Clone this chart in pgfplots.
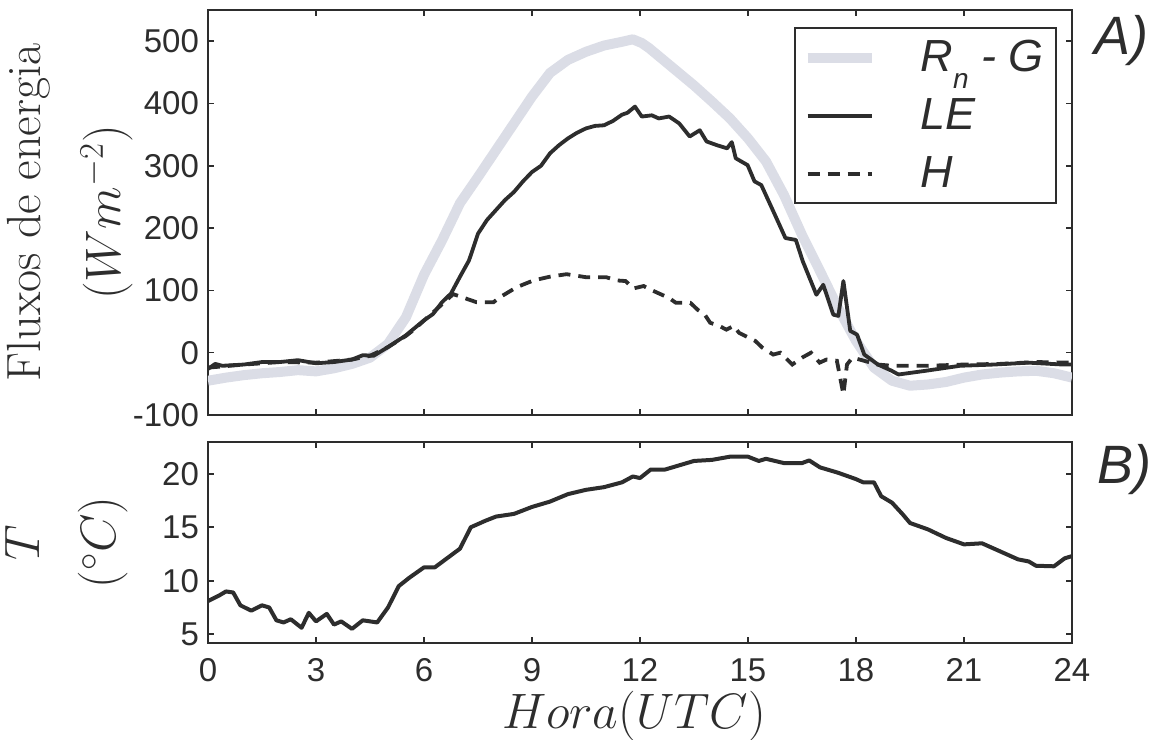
\documentclass[border=0pt]{standalone}
\usepackage{fontspec}
\usepackage{pgfplots}
\pgfplotsset{compat=1.18}
\newfontfamily\hel{Liberation Sans}
\definecolor{ink}{RGB}{45,45,45}
\definecolor{rng}{RGB}{219,221,230}

\begin{document}
\begin{tikzpicture}
\pgfplotsset{
  every axis/.append style={
    scale only axis, width=432pt,
    xmin=0, xmax=24, xtick={0,3,...,24},
    axis line style={ink, line width=1pt},
    every tick/.style={ink, line width=0.8pt},
    major tick length=3pt, tick align=inside,
    xtick pos=both, ytick pos=both,
    xticklabel pos=lower, yticklabel pos=left,
    /pgf/number format/assume math mode=true,
    tick label style={font=\hel\fontsize{16.5}{20}\selectfont, text=ink},
    xticklabel shift=4pt, yticklabel shift=1pt,
    clip mode=individual,
  },
}
% ---------------- top axis ----------------
\begin{axis}[
  at={(0,0)}, anchor=south west,
  height=202.5pt,
  ymin=-100, ymax=550, ytick={-100,0,...,500},
  xticklabels={},
  every axis y label/.style={at={(axis description cs:-0.086,0.5)}, rotate=90, anchor=south, inner sep=0pt, align=center, font=\fontsize{24}{40}\selectfont, text=ink},
  ylabel={Fluxos de energia\\$(Wm^{-2})$},
  legend cell align=left,
  legend image code/.code={\draw[#1] (0pt,0pt) -- (32pt,0pt);},
  legend style={at={(rel axis cs:1,1)}, anchor=north east, xshift=-7.65pt, yshift=-8.65pt,
    draw=ink, line width=1pt, fill=white, text=ink,
    font=\hel\itshape\fontsize{22.5}{27}\selectfont,
    inner xsep=4pt, inner ysep=4pt, row sep=8pt,
    /tikz/every odd column/.append style={column sep=20pt}},
]
\addplot[rng, line width=5pt, line join=round] coordinates {
(0,-45)(0.5,-40)(1,-36)(1.5,-33)(2,-31)(2.5,-28)(3,-30)(3.5,-25)(4,-18)(4.5,-8)
(5,14)(5.5,57)(6,125)(6.5,180)(7,240)(7.5,282)(8,325)(8.5,368)(9,411)(9.5,449)
(10,470)(10.5,483)(11,493)(11.5,499)(11.8,503)(12.05,497)(12.25,489)(12.5,477)
(13,453)(13.5,429)(14,403)
(14.5,376)(15,344)(15.5,307)(16,253)(16.5,189)(17,131)(17.5,72)(18,19)(18.5,-24)
(19,-45)(19.5,-53)(20,-51)(20.5,-47)(21,-40)(21.5,-35)(22,-32)(22.5,-30)(23,-29)
(23.5,-33)(24,-40)};
\addlegendentry{R\raisebox{-8.5pt}[0pt][0pt]{\fontsize{14}{14}\selectfont n} - G}
\addplot[ink, line width=1.9pt, line join=round] coordinates {
(0,-26)(0.2,-18)(0.4,-21)(1,-19)(1.5,-15)(2,-15)(2.5,-12)(3,-17)(3.5,-15)(4,-11)
(4.3,-4)(4.6,-5)(5,9)(5.5,28)(6,52)(6.25,62)(6.5,81)(6.75,95)(7,122)(7.25,148)
(7.5,191)(7.75,213)(8,229)(8.25,245)(8.5,258)(8.75,275)(9,290)(9.25,300)(9.5,320)
(9.75,333)(10,344)(10.25,353)(10.5,360)(10.75,364)(11,365)(11.25,372)(11.5,382)
(11.65,385)(11.86,395)(12.05,379)(12.33,381)(12.52,376)(12.81,379)(13.09,368)
(13.38,347)(13.66,357)(13.85,339)(14.14,333)(14.42,328)(14.55,338)(14.66,312)
(14.99,301)(15.18,275)(15.37,269)(15.75,221)(16.04,184)(16.33,181)(16.52,147)
(16.9,93)(17.09,109)(17.37,61)(17.51,59)(17.65,115)(17.84,35)(18.03,29)(18.23,-3)
(18.61,-19)(18.99,-29)(19.18,-35)(19.94,-29)(20.89,-21)(21.84,-19)(22.79,-16)(23.74,-19)(24,-19)};
\addlegendentry{LE}
\addplot[ink, line width=1.9pt, dash pattern=on 6pt off 4pt] coordinates {
(0,-24)(1,-19)(2,-15)(3,-16)(4,-11)(4.5,-5)(5,9)(5.5,27)(5.7,36)(6.26,65)(6.81,94)
(7.46,81)(7.93,81)(8.11,89)(8.57,105)(9.04,116)(9.5,122)(9.96,126)(10.52,121)
(11.07,121)(11.35,116)(11.6,115)(11.81,103)(12.1,107)(12.3,101)(12.8,88)(13,80)
(13.4,80)(13.6,69)(13.8,61)(13.95,48)(14.2,43)(14.4,37)(14.6,43)(14.75,32)(15.2,19)
(15.4,8)(15.7,-3)(15.9,0)(16.04,-8)(16.23,-19)(16.5,-8)(16.75,0)(16.99,-16)
(17.18,-11)(17.47,-13)(17.65,-67)(17.75,-19)(17.9,-8)(18.1,-11)(18.6,-19)(19,-21)
(20,-21)(21,-19)(22,-18)(23,-15)(24,-16)};
\addlegendentry{H}
\node[anchor=base west, font=\hel\itshape\fontsize{27}{32}\selectfont, text=ink, inner sep=0pt]
  at (rel axis cs:1,0.889) [xshift=11pt] {A)};
\end{axis}
% ---------------- bottom axis ----------------
\begin{axis}[
  at={(0,-13.35pt)}, anchor=north west,
  height=100.8pt,
  ymin=4.15, ymax=23, ytick={5,10,15,20},
  every axis y label/.style={at={(axis description cs:-0.092,0.5)}, rotate=90, anchor=south, inner sep=0pt, align=center, font=\fontsize{24}{38}\selectfont, text=ink},
  ylabel={$T$\\$(^\circ C)$},
  every axis x label/.style={at={(axis description cs:0.493,-0.425)}, anchor=base, inner sep=0pt, font=\fontsize{25.5}{30}\selectfont, text=ink},
  xlabel={$Hora(UTC)$},
]
\addplot[ink, line width=2pt, line join=round] coordinates {
(0,8.1)(0.3,8.6)(0.5,9.0)(0.7,8.9)(0.9,7.7)(1.2,7.2)(1.5,7.7)(1.7,7.5)(1.9,6.3)
(2.1,6.1)(2.3,6.4)(2.6,5.6)(2.8,7.0)(3.0,6.2)(3.3,6.9)(3.5,5.9)(3.7,6.2)(4.0,5.5)
(4.3,6.3)(4.7,6.1)(5.0,7.5)(5.3,9.5)(5.6,10.3)(6.0,11.25)(6.3,11.25)(6.6,12.0)
(7.0,13.0)(7.3,15.0)(7.7,15.6)(8.0,16.0)(8.5,16.25)(9.0,16.9)(9.5,17.4)(10,18.1)
(10.5,18.5)(11,18.75)(11.5,19.2)(11.8,19.75)(12,19.6)(12.3,20.4)(12.7,20.4)
(13,20.7)(13.5,21.2)(14,21.3)(14.5,21.6)(15,21.6)(15.3,21.2)(15.5,21.4)(16,21.0)
(16.5,21.0)(16.7,21.25)(17,20.6)(17.5,20.1)(18,19.5)(18.2,19.2)(18.5,19.2)
(18.7,17.9)(19,17.3)(19.3,16.2)(19.5,15.4)(20,14.8)(20.5,14.0)(21,13.4)(21.5,13.5)
(22,12.75)(22.5,12.0)(22.8,11.8)(23,11.4)(23.5,11.35)(23.8,12.1)(24,12.3)};
\node[anchor=base west, font=\hel\itshape\fontsize{27}{32}\selectfont, text=ink, inner sep=0pt]
  at (rel axis cs:1,0.795) [xshift=12.5pt] {B)};
\end{axis}
\pgfresetboundingbox
\useasboundingbox (-104pt,-162.15pt) rectangle (474.5pt,207.5pt);
\end{tikzpicture}
\end{document}
